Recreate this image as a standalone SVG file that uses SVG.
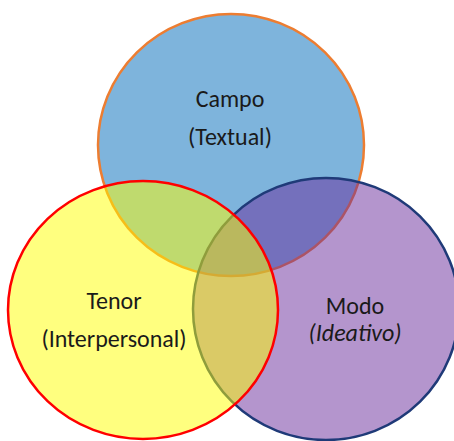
<svg xmlns="http://www.w3.org/2000/svg" width="454" height="441" viewBox="0 0 454 441">
  <style>
    .lbl { font-family: "Carlito", "Open Sans", "Lato", sans-serif; font-size: 24px; fill: #1a1a1a; text-anchor: middle; }
    .it { font-style: italic; }
  </style>
  <rect width="454" height="441" fill="#ffffff"/>
  <g id="campo">
    <ellipse cx="231" cy="145" rx="133" ry="131" fill="#7EB4DC" stroke="#ED7D31" stroke-width="2.5"/>
  </g>
  <g id="modo">
    <ellipse cx="326" cy="309" rx="133" ry="131" fill="#692B9B" fill-opacity="0.5" stroke="#1F3A78" stroke-width="2.5"/>
  </g>
  <g id="tenor">
    <ellipse cx="143" cy="310" rx="135" ry="129" fill="#FFFF00" fill-opacity="0.5" stroke="#FF0000" stroke-width="2.5"/>
  </g>
  <g id="labels">
    <text class="lbl" x="230" y="107">Campo</text>
    <text class="lbl" x="230" y="145">(Textual)</text>
    <text class="lbl" x="114" y="309">Tenor</text>
    <text class="lbl" x="114" y="347">(Interpersonal)</text>
    <text class="lbl" x="355" y="314">Modo</text>
    <text class="lbl it" x="355" y="341">(Ideativo)</text>
  </g>
</svg>
